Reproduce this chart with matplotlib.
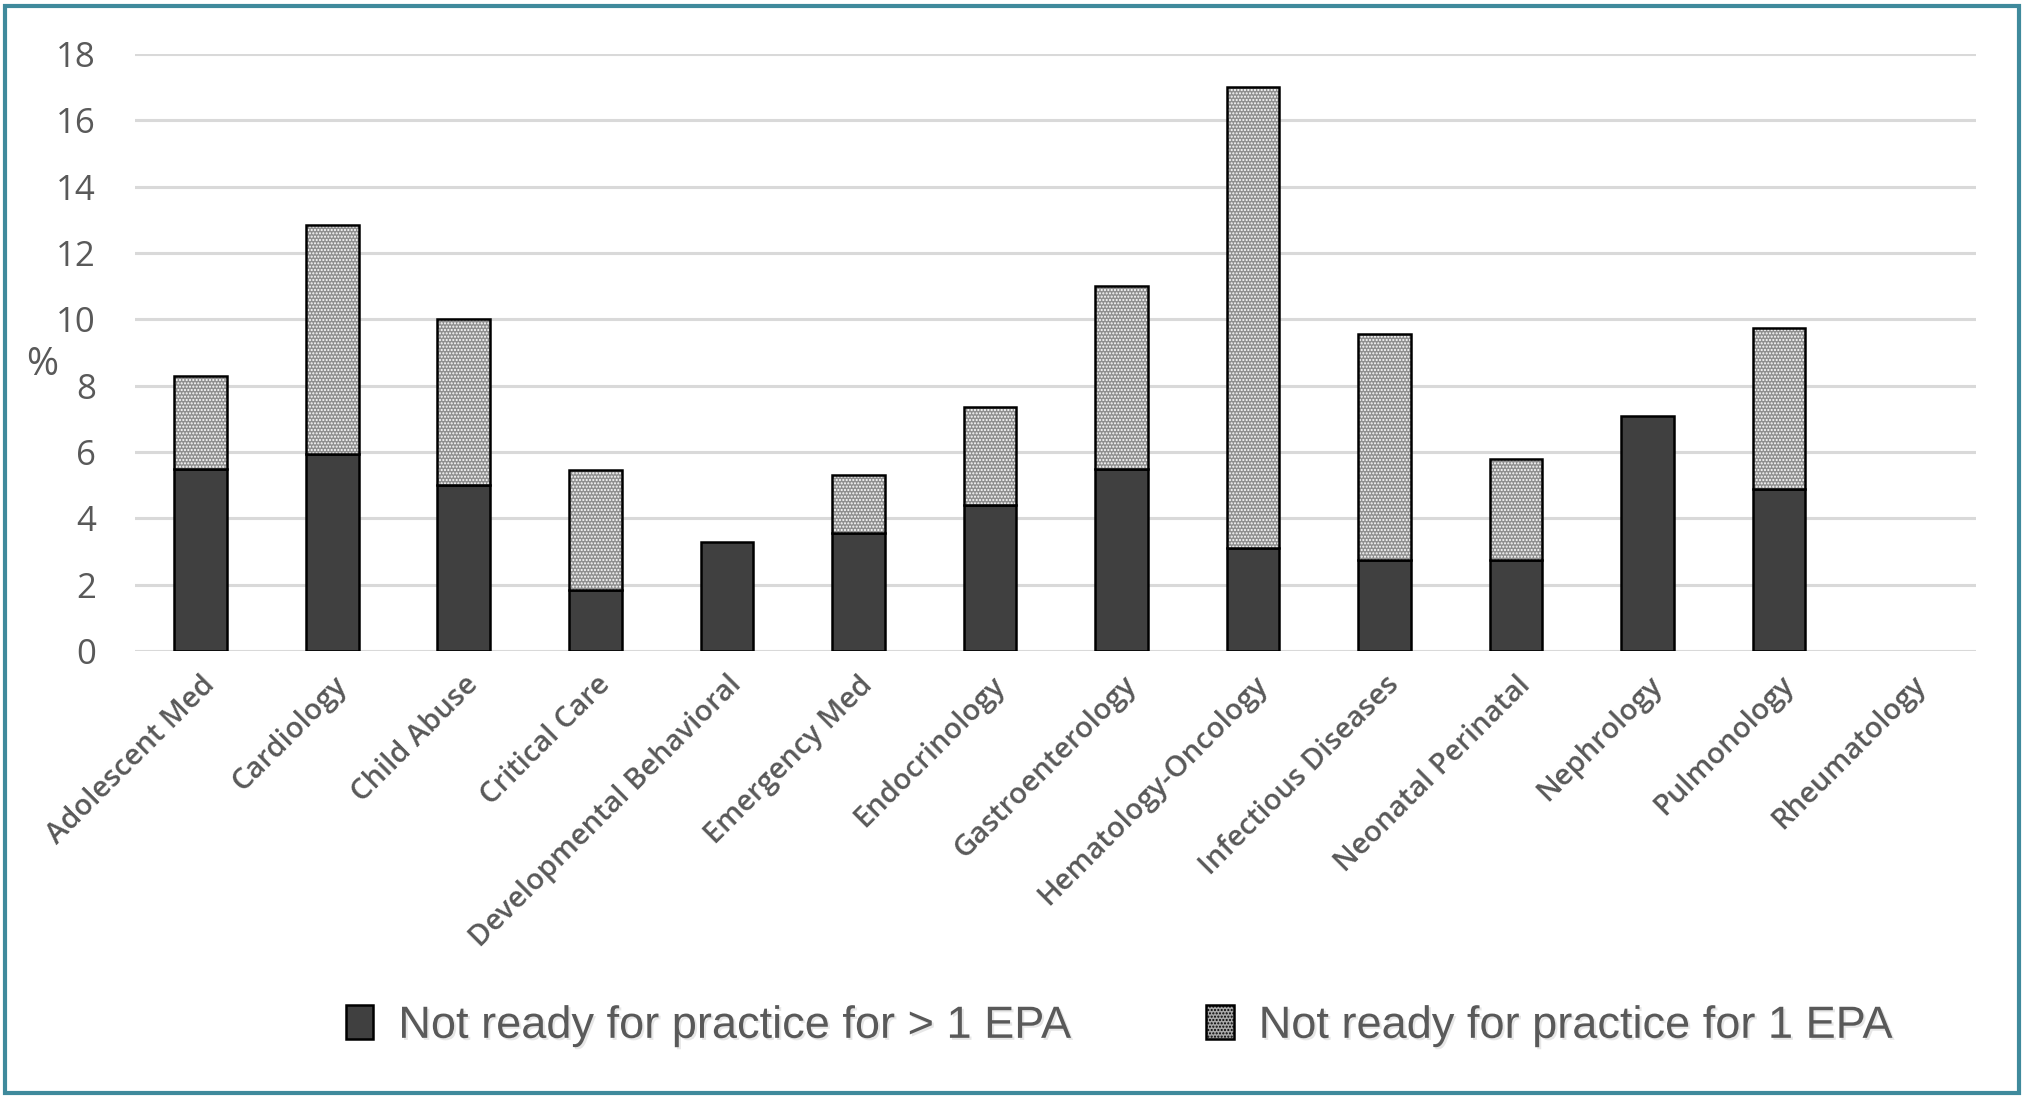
import matplotlib.pyplot as plt
import matplotlib.patheffects as pe
from matplotlib.patches import Rectangle, Patch
import numpy as np

categories = ['Adolescent Med', 'Cardiology', 'Child Abuse', 'Critical Care',
              'Developmental Behavioral', 'Emergency Med', 'Endocrinology',
              'Gastroenterology', 'Hematology-Oncology', 'Infectious Diseases',
              'Neonatal Perinatal', 'Nephrology', 'Pulmonology', 'Rheumatology']
more_than_one = [5.5, 5.95, 5.0, 1.85, 3.3, 3.55, 4.4, 5.5, 3.1, 2.75, 2.75, 7.1, 4.9, 0]
only_one = [2.8, 6.9, 5.0, 3.6, 0, 1.75, 2.95, 5.5, 13.9, 6.8, 3.05, 0, 4.85, 0]
yticks = [0, 2, 4, 6, 8, 10, 12, 14, 16, 18]
legend_labels = ['Not ready for practice for > 1 EPA', 'Not ready for practice for 1 EPA']

grey_txt = '#595959'
dark = '#404040'
dotted_face = '#8f8f8f'

plt.rcParams['hatch.color'] = 'white'
plt.rcParams['hatch.linewidth'] = 1.0

fig = plt.figure(figsize=(20.23, 10.96), dpi=100)
ax = fig.add_axes([0.0667, 0.406, 0.9103, 0.5447])

x = np.arange(len(categories))
w = 0.40
lower = np.array(more_than_one)
upper = np.array(only_one)
lw_lower = np.where(lower > 0, 1.8, 0)
lw_upper = np.where(upper > 0, 1.8, 0)

ax.bar(x, lower, w, color=dark, edgecolor='black', linewidth=lw_lower, zorder=3)
ax.bar(x, upper, w, bottom=lower, color=dotted_face, hatch='.....',
       edgecolor='white', linewidth=0, zorder=3)
ax.bar(x, upper, w, bottom=lower, color='none', edgecolor='black',
       linewidth=lw_upper, zorder=4)

ax.set_xlim(-0.5, len(categories) - 0.5)
ax.set_ylim(0, 18)
ax.set_yticks(yticks)
ax.yaxis.grid(True, color='#d9d9d9', linewidth=2.2, zorder=0)
ax.set_axisbelow(True)
for s in ax.spines.values():
    s.set_visible(False)
ax.tick_params(axis='both', length=0)
ax.tick_params(axis='y', labelsize=25, labelcolor=grey_txt, pad=28)
ax.set_xticks(x)
ax.set_xticklabels(categories, rotation=45, ha='right', rotation_mode='anchor',
                   fontsize=21, color=grey_txt, fontfamily='Open Sans',
                   fontweight='semibold')
ax.tick_params(axis='x', pad=14)
for lab in ax.get_yticklabels():
    lab.set_family(['Open Sans', 'DejaVu Sans'])

fig.text(0.021, 0.667, '%', fontsize=28, color=grey_txt, va='center',
         ha='center', family=['Open Sans', 'DejaVu Sans'])

handles = [Patch(facecolor=dark, edgecolor='black', linewidth=1.8),
           Patch(facecolor='#a8a8a8', edgecolor='black', hatch='.....', linewidth=1.8)]
leg = fig.legend(handles, legend_labels, loc='center', bbox_to_anchor=(0.553, 0.064),
                 ncol=2, frameon=False, handlelength=0.62, handleheight=0.8,
                 handletextpad=0.55, columnspacing=3.0,
                 prop={'family': ['Liberation Sans Narrow', 'Liberation Sans'],
                       'size': 32.5})
for t in leg.get_texts():
    t.set_color(grey_txt)
    t.set_path_effects([pe.SimplePatchShadow(offset=(1.5, -1.5), shadow_rgbFace='#b0b0b0'),
                        pe.Normal()])

fig.patches.append(Rectangle((0.0025, 0.003), 0.9955, 0.9915, transform=fig.transFigure,
                             fill=False, edgecolor='#3f8a9c', linewidth=3))

fig.savefig('out.png', dpi=100)
